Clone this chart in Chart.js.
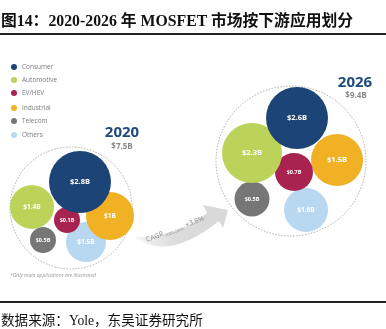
<!DOCTYPE html>
<html>
<head>
<meta charset="utf-8">
<script src="https://cdn.jsdelivr.net/npm/chart.js@4.4.0/dist/chart.umd.min.js"></script>
<style>
  html, body { margin:0; padding:0; background:#fff; }
  #wrap { position:relative; width:386px; height:329px; overflow:hidden; }
  #chart { position:absolute; left:0; top:0; }
  .title { position:absolute; left:1px; top:8px; font:bold 15.8px "Liberation Serif","Noto Sans CJK SC",serif; color:#111; white-space:nowrap; }
  .rule { position:absolute; left:0; width:386px; height:2px; background:#222; }
  .src { position:absolute; left:1px; top:309px; font:13.6px "Liberation Serif","Noto Sans CJK SC",serif; color:#111; white-space:nowrap; }
</style>
</head>
<body>
<div id="wrap">
  <canvas id="chart" width="386" height="329"></canvas>
  <div class="title">图14：2020-2026 年 MOSFET 市场按下游应用划分</div>
  <div class="rule" style="top:33px"></div>
  <div class="rule" style="top:301px"></div>
  <div class="src">数据来源：Yole，东吴证券研究所</div>
</div>
<script>
// categories and market size ($B)
const categories = ['Consumer', 'Automotive', 'EV/HEV', 'Industrial', 'Telecom', 'Others'];
const colors = ['#1d4476', '#bcd35a', '#a8234f', '#f0b224', '#767676', '#b8d8f2'];
const years = ['2020', '2026'];
const totals = ['$7.5B', '$9.4B'];
const value2020 = [2.8, 1.4, 0.1, 1, 0.5, 1.5];
const value2026 = [2.6, 2.3, 0.7, 1.5, 0.5, 1.6];

// bubble layout (as drawn in the source figure)
const x2020 = [80, 32, 67, 110, 43, 86];
const y2020 = [182, 207, 220, 216, 240, 242];
const r2020 = [31, 22, 13, 24, 13, 20];
const x2026 = [297, 252, 294, 337, 252, 306];
const y2026 = [118, 153, 172, 160, 199, 210];
const r2026 = [31, 30, 19, 26, 17.5, 22];
const ringX = [71, 291];
const ringY = [208, 161];
const ringR = [61, 75];
const cagr = '+3.8%';

// bubble charts pad the chart area by the largest radius; widen the scales by the same amount
const maxR = Math.max(...r2020, ...r2026);

const datasets = categories.map((c, i) => ({
  label: c,
  data: [
    { x: x2020[i], y: y2020[i], r: r2020[i], v: value2020[i] },
    { x: x2026[i], y: y2026[i], r: r2026[i], v: value2026[i] }
  ],
  backgroundColor: colors[i],
  borderWidth: 0,
  hoverRadius: 0,
  clip: false
}));

const decor = {
  id: 'decor',
  beforeDatasetsDraw(chart) {
    const { ctx, scales: { x, y } } = chart;
    ctx.save();
    // dashed rings
    ctx.strokeStyle = '#9a9a9a'; ctx.lineWidth = 0.8; ctx.setLineDash([1.5, 1.5]);
    ringX.forEach((rx, k) => {
      ctx.beginPath();
      ctx.arc(x.getPixelForValue(rx), y.getPixelForValue(ringY[k]), ringR[k], 0, Math.PI * 2);
      ctx.stroke();
    });
    ctx.setLineDash([]);
    // growth arrow
    const g = ctx.createLinearGradient(135, 240, 228, 210);
    g.addColorStop(0, 'rgba(215,215,215,0.2)');
    g.addColorStop(0.4, '#dcdcdc');
    g.addColorStop(1, '#d8d8d8');
    ctx.fillStyle = g;
    ctx.beginPath();
    ctx.moveTo(134, 237);
    ctx.quadraticCurveTo(172, 240, 207, 213);
    ctx.lineTo(203, 205);
    ctx.lineTo(228, 210);
    ctx.lineTo(223, 228);
    ctx.lineTo(219, 221);
    ctx.quadraticCurveTo(168, 262, 134, 237);
    ctx.fill();
    ctx.translate(147, 242);
    ctx.rotate(-0.36);
    ctx.fillStyle = '#8c8c8c';
    ctx.textBaseline = 'alphabetic';
    ctx.font = '7px "Open Sans", sans-serif';
    ctx.fillText('CAGR', 0, 0);
    let w = ctx.measureText('CAGR').width;
    ctx.font = '4px "Open Sans", sans-serif';
    ctx.fillText('2020-2026:', w + 1, 1.5);
    w += ctx.measureText('2020-2026:').width + 3;
    ctx.font = '7px "Open Sans", sans-serif';
    ctx.fillText(cagr, w, 0);
    ctx.restore();

    // legend
    ctx.save();
    const ly = [67, 80, 93, 108, 121, 135];
    ctx.font = '6.5px "Open Sans", sans-serif';
    ctx.textBaseline = 'middle';
    categories.forEach((c, i) => {
      ctx.fillStyle = colors[i];
      ctx.beginPath(); ctx.arc(14, ly[i], 3, 0, Math.PI * 2); ctx.fill();
      ctx.fillStyle = '#7a7a7a';
      ctx.fillText(c, 22, ly[i]);
    });
    // year headers
    ctx.textAlign = 'center';
    ctx.fillStyle = '#1f4a7c';
    ctx.font = 'bold 15px "Open Sans", sans-serif';
    ctx.fillText(years[0], 122, 133);
    ctx.fillText(years[1], 355, 83);
    ctx.fillStyle = '#8a8a8a';
    ctx.font = 'bold 8px "Open Sans", sans-serif';
    ctx.fillText(totals[0], 122, 147);
    ctx.fillText(totals[1], 356, 96);
    // footnote
    ctx.textAlign = 'left';
    ctx.font = 'italic 5px "Open Sans", sans-serif';
    ctx.fillStyle = '#999';
    ctx.fillText('*Only main applications are illustrated', 10, 276);
    ctx.restore();
  },
  afterDatasetsDraw(chart) {
    const { ctx } = chart;
    ctx.save();
    ctx.fillStyle = '#fff';
    ctx.textAlign = 'center';
    ctx.textBaseline = 'middle';
    chart.data.datasets.forEach((ds, i) => {
      chart.getDatasetMeta(i).data.forEach((pt, j) => {
        const r = ds.data[j].r;
        const fs = r >= 26 ? 7.5 : r >= 20 ? 6.5 : 5.5;
        ctx.font = 'bold ' + fs + 'px "Open Sans", sans-serif';
        ctx.fillText('$' + ds.data[j].v + 'B', pt.x, pt.y);
      });
    });
    ctx.restore();
  }
};

new Chart(document.getElementById('chart'), {
  type: 'bubble',
  data: { datasets },
  options: {
    responsive: false,
    animation: false,
    layout: { padding: 0 },
    scales: {
      x: { type: 'linear', min: maxR, max: 386 - maxR, display: false },
      y: { type: 'linear', min: maxR, max: 329 - maxR, reverse: true, display: false }
    },
    plugins: { legend: { display: false }, tooltip: { enabled: false } }
  },
  plugins: [decor]
});
</script>
</body>
</html>
